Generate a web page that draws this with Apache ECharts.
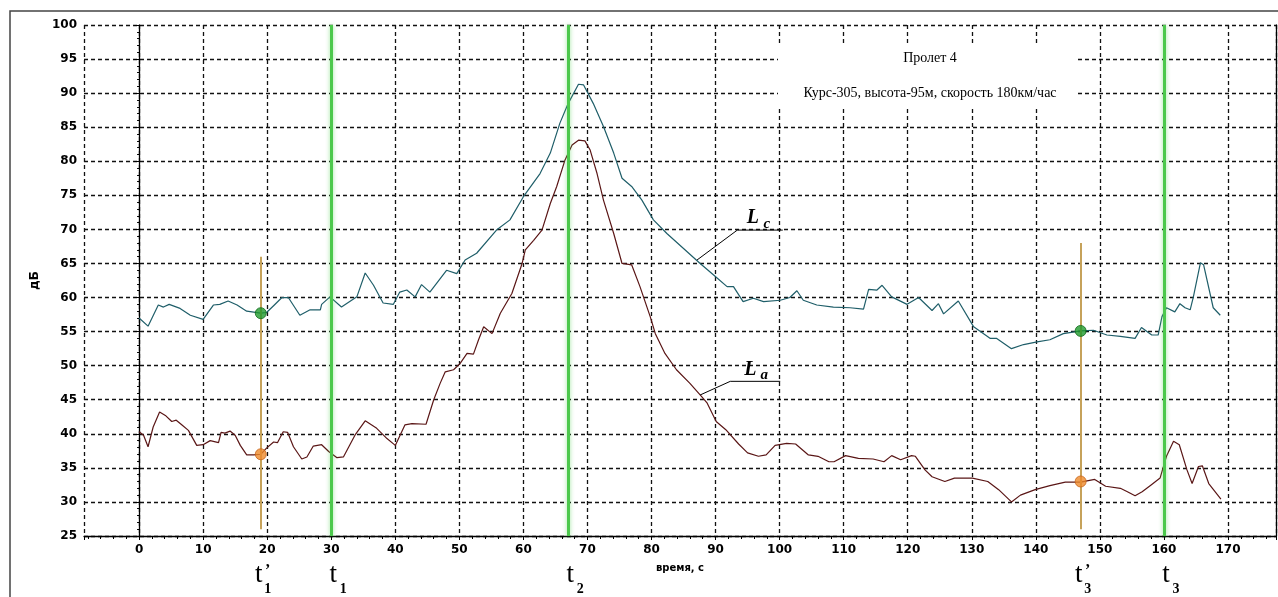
<!DOCTYPE html>
<html>
<head>
<meta charset="utf-8">
<script src="https://cdn.jsdelivr.net/npm/echarts@6/dist/echarts.min.js"></script>
<style>
  html, body { margin: 0; padding: 0; background: #fff; }
  #chart { width: 1278px; height: 597px; }
</style>
</head>
<body>
<div id="chart"></div>
<script>
// Lc - верхняя кривая
const lcTime = [0, 1.4, 3.0, 3.8, 4.7, 6.4, 8.0, 10.0, 11.6, 12.6, 13.9, 15.3, 16.8, 19.0, 19.9, 21.0, 22.3, 23.3, 25.1, 26.7,
  28.3, 28.5, 29.8, 31.6, 34.0, 35.3, 36.6, 38.1, 39.7, 40.7, 41.8, 43.1, 44.1, 45.4, 48.0, 49.6, 50.9, 52.7, 55.8, 57.9,
  60.0, 62.6, 64.2, 65.7, 67.0, 68.6, 69.4, 70.9, 72.5, 74.1, 75.4, 76.9, 78.5, 80.3, 82.4, 85.0, 87.6, 89.7, 91.8, 92.8,
  94.3, 95.9, 97.5, 100.1, 101.6, 102.7, 103.7, 105.8, 108.4, 111.0, 113.1, 113.9, 115.2, 116.0, 117.5, 119.9, 121.7, 123.8, 124.8, 125.6,
  127.9, 130.3, 132.9, 133.9, 136.2, 138.1, 140.2, 142.2, 144.3, 147.0, 149.0, 151.1, 153.2, 155.5, 156.5, 158.1, 159.1, 159.7, 160.4, 161.7,
  162.5, 163.3, 164.1, 164.6, 165.7, 166.2, 167.7, 168.8];
const lcLevel = [57.0, 55.8, 58.9, 58.6, 59.0, 58.4, 57.4, 56.8, 58.9, 59.0, 59.5, 58.9, 58.0, 57.7, 57.8, 58.8, 60.0, 60.0, 57.4, 58.2,
  58.2, 59.0, 60.1, 58.6, 60.1, 63.6, 61.8, 59.2, 59.0, 60.8, 61.1, 60.1, 61.9, 60.8, 64.0, 63.5, 65.5, 66.5, 69.9, 71.4,
  74.8, 78.2, 81.2, 85.6, 88.5, 91.3, 91.2, 88.5, 85.1, 81.2, 77.5, 76.3, 74.3, 71.4, 69.4, 67.2, 65.0, 63.3, 61.6, 61.6,
  59.4, 59.9, 59.4, 59.6, 60.0, 61.0, 59.6, 58.9, 58.6, 58.5, 58.3, 61.2, 61.1, 61.8, 60.1, 59.0, 60.0, 58.1, 59.1, 57.6,
  59.5, 55.7, 54.0, 54.0, 52.5, 53.1, 53.5, 53.8, 54.7, 55.1, 55.2, 54.5, 54.3, 54.0, 55.6, 54.5, 54.5, 57.2, 58.5, 57.9,
  59.1, 58.5, 58.2, 60.1, 65.1, 64.8, 58.5, 57.4];

// La - нижняя кривая
const laTime = [0, 0.7, 1.4, 2.2, 3.2, 4.1, 5.1, 5.8, 6.7, 7.7, 9.0, 10.0, 11.1, 12.4, 12.8, 13.4, 14.2, 15.0, 15.8, 16.8,
  17.9, 19.0, 19.9, 21.0, 21.6, 22.5, 23.2, 24.1, 25.4, 26.2, 27.2, 28.5, 29.6, 30.9, 31.9, 33.7, 35.3, 37.1, 38.7, 40.0,
  41.5, 42.6, 44.8, 46.0, 47.0, 47.8, 49.1, 50.1, 51.2, 52.2, 53.0, 53.8, 55.1, 56.4, 58.2, 59.8, 60.3, 61.6, 62.9, 64.2,
  65.2, 66.5, 67.6, 68.6, 69.6, 70.4, 71.5, 72.5, 74.1, 75.4, 76.9, 78.2, 79.8, 80.6, 82.1, 83.9, 86.0, 87.8, 88.7, 90.1,
  91.6, 93.6, 95.0, 96.7, 97.9, 99.3, 101.1, 102.5, 104.5, 106.0, 107.7, 108.5, 110.3, 112.3, 114.6, 116.3, 117.5, 118.9, 120.6, 121.2,
  122.7, 123.8, 125.8, 127.3, 130.1, 132.5, 134.2, 136.2, 137.6, 139.9, 142.2, 144.6, 147.0, 149.2, 150.9, 153.2, 154.3, 155.5, 156.6, 158.0,
  159.4, 160.4, 161.5, 162.4, 163.6, 164.4, 165.4, 166.0, 167.0, 168.9];
const laLevel = [40.3, 39.8, 38.1, 41.0, 43.2, 42.7, 41.8, 42.0, 41.3, 40.5, 38.3, 38.4, 39.0, 38.7, 40.2, 40.1, 40.4, 39.8, 38.3, 36.9,
  36.9, 37.0, 37.9, 38.8, 38.7, 40.3, 40.2, 38.1, 36.3, 36.6, 38.2, 38.4, 37.4, 36.5, 36.6, 39.8, 41.9, 40.8, 39.3, 38.3,
  41.3, 41.5, 41.4, 45.0, 47.4, 49.1, 49.4, 50.3, 51.8, 51.7, 53.8, 55.7, 54.7, 57.7, 60.6, 65.0, 67.0, 68.4, 69.9, 73.8,
  76.3, 80.2, 82.4, 83.1, 83.0, 81.7, 78.2, 74.3, 69.4, 65.0, 64.8, 61.6, 57.2, 54.7, 51.8, 49.4, 47.4, 45.5, 44.5, 41.8,
  40.6, 38.5, 37.2, 36.7, 36.9, 38.3, 38.6, 38.5, 36.9, 36.7, 35.9, 35.9, 36.8, 36.4, 36.3, 35.9, 36.8, 36.2, 36.8, 36.7,
  34.7, 33.7, 33.0, 33.5, 33.5, 33.0, 31.8, 30.0, 31.0, 31.8, 32.4, 32.9, 32.9, 33.3, 32.3, 32.0, 31.5, 30.9, 31.5, 32.5,
  33.5, 36.7, 38.9, 38.4, 34.7, 32.7, 35.2, 35.3, 32.7, 30.4];

// моменты времени
const mainLines = [30, 67, 160];          // t1, t2, t3
const pointTimes = [19, 147];             // t'1, t'3
const pointLc = [57.7, 55.1];
const pointLa = [37.0, 33.0];
const pointLineTop = [66, 68];
const pointLineBottom = [26, 26];

// подписи t
const markTimes = [19, 30, 67, 147, 160];
const markSubs = ['1', '1', '2', '3', '3'];
const markPrimed = [true, false, false, true, false];

// выноски Lc / La
const leaderLc = [[87.1, 65.5], [93.4, 69.9], [100.5, 69.9]];
const leaderLa = [[87.6, 45.7], [92.3, 47.7], [100.1, 47.7]];

const titleLine1 = 'Пролет 4';
const titleLine2 = 'Курс-305, высота-95м, скорость 180км/час';

const chart = echarts.init(document.getElementById('chart'));

const zip = (a, b) => a.map((v, i) => [v, b[i]]);
const labelFont = 'DejaVu Sans';

const option = {
  animation: false,
  backgroundColor: '#fff',
  grid: { left: 84, right: 2, top: 25, bottom: 61 },
  xAxis: {
    type: 'value',
    min: -8.6,
    max: 177.5,
    splitNumber: 18,
    name: 'время, с',
    nameLocation: 'middle',
    nameGap: 27,
    nameTextStyle: { fontFamily: labelFont, fontWeight: 'bold', fontSize: 10, color: '#000' },
    axisLine: { show: true, onZero: false, lineStyle: { color: '#000', width: 1.3 } },
    axisTick: { show: true, length: 4, lineStyle: { color: '#000' } },
    minorTick: { show: true, splitNumber: 5, length: 3, lineStyle: { color: '#000' } },
    axisLabel: {
      showMinLabel: false, showMaxLabel: false, margin: 8,
      fontFamily: labelFont, fontWeight: 'bold', fontSize: 12, color: '#000',
      formatter: v => String(Math.round(v))
    },
    splitLine: { show: true, lineStyle: { color: '#111', type: [4, 3], width: 1.3 } }
  },
  yAxis: [{
    type: 'value',
    min: 25,
    max: 100,
    interval: 5,
    name: 'дБ',
    nameLocation: 'middle',
    nameRotate: 90,
    nameGap: 42,
    nameTextStyle: { fontFamily: labelFont, fontWeight: 'bold', fontSize: 12, color: '#000' },
    axisLine: { show: true, lineStyle: { color: '#000', width: 1.3 } },
    axisTick: { show: true, length: 5, lineStyle: { color: '#000' } },
    minorTick: { show: true, splitNumber: 5, length: 2, lineStyle: { color: '#000' } },
    axisLabel: { margin: 7, fontFamily: labelFont, fontWeight: 'bold', fontSize: 12, color: '#000' },
    splitLine: { show: true, lineStyle: { color: '#111', type: [4, 3], width: 1.3 } }
  }, {
    type: 'value',
    min: 25,
    max: 100,
    position: 'right',
    axisLine: { show: true, lineStyle: { color: '#000', width: 1.3 } },
    axisTick: { show: false },
    axisLabel: { show: false },
    splitLine: { show: false }
  }],
  series: [
    {
      name: 'Lc',
      type: 'line',
      data: zip(lcTime, lcLevel),
      showSymbol: false,
      lineStyle: { color: '#1f5e69', width: 1.2 },
      z: 3
    },
    {
      name: 'La',
      type: 'line',
      data: zip(laTime, laLevel),
      showSymbol: false,
      lineStyle: { color: '#5a1616', width: 1.2 },
      z: 3
    },
    {
      name: 'leaderLc',
      type: 'line',
      data: leaderLc,
      showSymbol: false,
      lineStyle: { color: '#000', width: 1 },
      z: 3
    },
    {
      name: 'leaderLa',
      type: 'line',
      data: leaderLa,
      showSymbol: false,
      lineStyle: { color: '#000', width: 1 },
      z: 3
    },
    {
      name: 'marks',
      type: 'scatter',
      data: [],
      z: 2,
      markLine: {
        silent: true,
        symbol: 'none',
        label: { show: false },
        data: mainLines.map(v => ({
          xAxis: v,
          lineStyle: { color: '#4cc84c', width: 3, type: 'solid', shadowColor: 'rgba(90,210,90,0.6)', shadowBlur: 4 }
        })).concat(pointTimes.map((v, i) => [
          { coord: [v, pointLineTop[i]], lineStyle: { color: '#c6a25a', width: 2, type: 'solid' } },
          { coord: [v, pointLineBottom[i]] }
        ]))
      }
    },
    {
      name: 'pointsLc',
      type: 'scatter',
      data: zip(pointTimes, pointLc),
      symbolSize: 11,
      itemStyle: { color: '#1f9a2c', borderColor: '#0f6a1a', borderWidth: 1 },
      z: 5
    },
    {
      name: 'pointsLa',
      type: 'scatter',
      data: zip(pointTimes, pointLa),
      symbolSize: 11,
      itemStyle: { color: '#ee8a2a', borderColor: '#c8651c', borderWidth: 1 },
      z: 5
    }
  ]
};

chart.setOption(option);

// подписи и рамки
const px = v => chart.convertToPixel({ xAxisIndex: 0, yAxisIndex: 0 }, v);
const graphic = [
  { type: 'rect', shape: { x: 10, y: 11, width: 1290, height: 620 }, style: { fill: 'none', stroke: '#444', lineWidth: 1.5 }, z: 10 },
  { type: 'rect', shape: { x: 778, y: 46, width: 298, height: 62 }, style: { fill: '#fff' }, z: 1 },
  { type: 'text', x: 930, y: 58, style: { text: titleLine1, font: '14px "Liberation Serif"', fill: '#000', align: 'center', verticalAlign: 'middle' }, z: 4 },
  { type: 'text', x: 930, y: 93, style: { text: titleLine2, font: '14px "Liberation Serif"', fill: '#000', align: 'center', verticalAlign: 'middle' }, z: 4 }
];

markTimes.forEach((t, i) => {
  const x = px([t, 25])[0];
  const primed = markPrimed[i];
  const tx = primed ? x - 2 : x + 2;
  const sx = primed ? x + 7 : x + 12;
  graphic.push({ type: 'text', x: tx, y: 575, style: { text: 't', font: '27px "Liberation Serif"', fill: '#000', align: 'center', verticalAlign: 'middle' }, z: 4 });
  graphic.push({ type: 'text', x: sx, y: 589, style: { text: markSubs[i], font: 'bold 14px "Liberation Serif"', fill: '#000', align: 'center', verticalAlign: 'middle' }, z: 4 });
  if (primed) {
    graphic.push({ type: 'text', x: sx, y: 571, style: { text: '\u2019', font: 'bold 16px "Liberation Serif"', fill: '#000', align: 'center', verticalAlign: 'middle' }, z: 4 });
  }
});

[[leaderLc, 'c'], [leaderLa, 'a']].forEach(([pts, sub]) => {
  const end = px(pts[pts.length - 1]);
  graphic.push({ type: 'text', x: end[0] - 30, y: end[1] - 12, style: { text: 'L', font: 'italic bold 20px "Liberation Serif"', fill: '#000', align: 'center', verticalAlign: 'middle' }, z: 4 });
  graphic.push({ type: 'text', x: end[0] - 16, y: end[1] - 6, style: { text: sub, font: 'italic bold 15px "Liberation Serif"', fill: '#000', align: 'center', verticalAlign: 'middle' }, z: 4 });
});

chart.setOption({ graphic: graphic });
</script>
</body>
</html>
